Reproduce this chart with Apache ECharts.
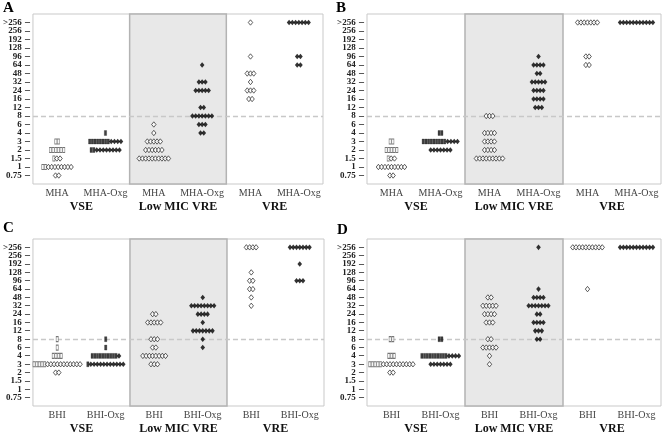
<!DOCTYPE html>
<html><head><meta charset="utf-8">
<script src="https://cdn.jsdelivr.net/npm/echarts@6/dist/echarts.min.js"></script>
<style>html,body{margin:0;padding:0;background:#fff}#c{width:664px;height:435px}</style>
</head><body><div id="c"></div>
<script>
// ---- tick labels / categories ----
const yTicks = ['0.75','1','1.5','2','3','4','6','8','12','16','24','32','48','64','96','128','192','256','>256'];
const groups = ['VSE','Low MIC VRE','VRE'];
const mediaMHA = ['MHA','MHA-Oxg'];
const mediaBHI = ['BHI','BHI-Oxg'];

// rows: [MIC, number of squares, number of diamonds]
// Panel A (MHA)
const A_VSE_MHA = [['3',2,0],['2',6,0],['1.5',1,2],['1',2,8],['0.75',0,2]];
const A_VSE_OXG = [['4',1,0],['3',8,4],['2',2,8]];
const A_LOW_MHA = [['6',0,1],['4',0,1],['3',0,5],['2',0,6],['1.5',0,10]];
const A_LOW_OXG = [['64',0,1],['32',0,3],['24',0,5],['12',0,2],['8',0,7],['6',0,3],['4',0,2]];
const A_VRE_MHA = [['>256',0,1],['96',0,1],['48',0,3],['32',0,1],['24',0,3],['16',0,2]];
const A_VRE_OXG = [['>256',0,7],['96',0,2],['64',0,2]];
// Panel B (MHA)
const B_VSE_MHA = [['3',2,0],['2',5,0],['1.5',1,2],['1',0,9],['0.75',0,2]];
const B_VSE_OXG = [['4',2,0],['3',9,4],['2',0,7]];
const B_LOW_MHA = [['8',0,3],['4',0,4],['3',0,4],['2',0,4],['1.5',0,9]];
const B_LOW_OXG = [['96',0,1],['64',0,4],['48',0,2],['32',0,5],['24',0,4],['16',0,4],['12',0,3]];
const B_VRE_MHA = [['>256',0,7],['96',0,2],['64',0,2]];
const B_VRE_OXG = [['>256',0,11]];
// Panel C (BHI)
const C_VSE_BHI = [['8',1,0],['6',1,0],['4',4,0],['3',5,11],['2',0,2]];
const C_VSE_OXG = [['8',1,0],['6',1,0],['4',10,1],['3',1,11]];
const C_LOW_BHI = [['24',0,2],['16',0,5],['8',0,3],['6',0,2],['4',0,8],['3',0,3]];
const C_LOW_OXG = [['48',0,1],['32',0,8],['24',0,4],['16',0,1],['12',0,7],['8',0,1],['6',0,1]];
const C_VRE_BHI = [['>256',0,4],['128',0,1],['96',0,2],['64',0,2],['48',0,1],['32',0,1]];
const C_VRE_OXG = [['>256',0,7],['192',0,1],['96',0,3]];
// Panel D (BHI)
const D_VSE_BHI = [['8',2,0],['4',3,0],['3',5,10],['2',0,2]];
const D_VSE_OXG = [['8',2,0],['4',10,4],['3',0,7]];
const D_LOW_BHI = [['48',0,2],['32',0,5],['24',0,4],['16',0,3],['8',0,2],['6',0,5],['4',0,1],['3',0,1]];
const D_LOW_OXG = [['>256',0,1],['64',0,1],['48',0,4],['32',0,7],['24',0,2],['16',0,4],['12',0,3],['8',0,2]];
const D_VRE_BHI = [['>256',0,10],['64',0,1]];
const D_VRE_OXG = [['>256',0,11]];

const panels = [
  {name:'A', media:mediaMHA, cols:[A_VSE_MHA,A_VSE_OXG,A_LOW_MHA,A_LOW_OXG,A_VRE_MHA,A_VRE_OXG], left:28, top:14, width:295},
  {name:'B', media:mediaMHA, cols:[B_VSE_MHA,B_VSE_OXG,B_LOW_MHA,B_LOW_OXG,B_VRE_MHA,B_VRE_OXG], left:367, top:14, width:296},
  {name:'C', media:mediaBHI, cols:[C_VSE_BHI,C_VSE_OXG,C_LOW_BHI,C_LOW_OXG,C_VRE_BHI,C_VRE_OXG], left:28, top:239, width:296},
  {name:'D', media:mediaBHI, cols:[D_VSE_BHI,D_VSE_OXG,D_LOW_BHI,D_LOW_OXG,D_VRE_BHI,D_VRE_OXG], left:367, top:239, width:296}
];
const letterPos = [[3,1],[336,1],[3,221],[337,223]];

const SERIF = 'Liberation Serif, DejaVu Serif, serif';
const GH = 170;
const SQ_W = 2.7, DI_W = 3.3;

const grid = [], xAxis = [], yAxis = [], series = [], graphic = [];

panels.forEach((p, pi) => {
  grid.push({left:p.left, top:p.top, width:p.width, height:GH, show:true, borderColor:'#c9c9c9', borderWidth:1, backgroundColor:'transparent'});
  const media = p.media;
  xAxis.push({gridIndex:pi, type:'value', min:0, max:6, interval:0.5, position:'bottom',
    axisLine:{show:false}, axisTick:{show:false}, splitLine:{show:false},
    axisLabel:{margin:4, fontFamily:SERIF, fontSize:10, color:'#444',
      formatter:v=>{const k=Math.round(v*2); return (k%2===1)? media[((k-1)/2)%2] : '';}}});
  xAxis.push({gridIndex:pi, type:'value', min:0, max:6, interval:1, position:'bottom',
    axisLine:{show:false}, axisTick:{show:false}, splitLine:{show:false},
    axisLabel:{margin:17, fontFamily:SERIF, fontSize:12, fontWeight:'bold', color:'#111',
      formatter:v=>{const k=Math.round(v); return (k%2===1)? groups[(k-1)/2] : '';}}});
  yAxis.push({gridIndex:pi, type:'value', min:-1, max:19, interval:1,
    axisLine:{show:false}, axisTick:{show:false}, splitLine:{show:false},
    axisLabel:{margin:3, showMinLabel:false, showMaxLabel:false,
      formatter:v=>{const i=Math.round(v); if(i<0||i>=yTicks.length) return ''; return '{t|'+yTicks[i]+'} {d|–}';},
      rich:{t:{fontFamily:SERIF, fontSize:9, fontWeight:'bold', color:'#222'},
            d:{fontFamily:SERIF, fontSize:10, fontWeight:'bold', color:'#222'}}}});

  const pxPerUnit = p.width / 6;
  const openD = [], fillD = [], openS = [], fillS = [];
  p.cols.forEach((rows, ci) => {
    const filled = ci % 2 === 1;
    rows.forEach(([mic, nSq, nD]) => {
      const yi = yTicks.indexOf(mic);
      const total = nSq*SQ_W + nD*DI_W;
      let x = -total/2;
      for (let k=0;k<nSq;k++){ const pos = x + SQ_W/2; x += SQ_W; (filled?fillS:openS).push([ci+0.5+pos/pxPerUnit, yi]); }
      for (let k=0;k<nD;k++){ const pos = x + DI_W/2; x += DI_W; (filled?fillD:openD).push([ci+0.5+pos/pxPerUnit, yi]); }
    });
  });
  const xi = pi*2;
  series.push({type:'scatter', xAxisIndex:xi, yAxisIndex:pi, data:[], z:1, zlevel:0, silent:true,
    markArea:{silent:true, itemStyle:{color:'#e8e8e8', borderColor:'#b3b3b3', borderWidth:1.5},
      data:[[{xAxis:2, yAxis:-1},{xAxis:4, yAxis:19}]]},
    markLine:{silent:true, symbol:'none', label:{show:false},
      lineStyle:{color:'#c8c8c8', width:1.3, type:[5,3]}, data:[{yAxis:7}]}});
  series.push({type:'scatter', xAxisIndex:xi, yAxisIndex:pi, data:openS, z:5, symbol:'rect', symbolSize:[2.2,5],
    itemStyle:{color:'#f4f4f4', borderColor:'#555', borderWidth:0.8}});
  series.push({type:'scatter', xAxisIndex:xi, yAxisIndex:pi, data:fillS, z:5, symbol:'rect', symbolSize:[2.3,5],
    itemStyle:{color:'#111', borderColor:'#111', borderWidth:0.3}});
  series.push({type:'scatter', xAxisIndex:xi, yAxisIndex:pi, data:openD, z:5, symbol:'diamond', symbolSize:[4.4,5.4],
    itemStyle:{color:'#fff', borderColor:'#222', borderWidth:0.9}});
  series.push({type:'scatter', xAxisIndex:xi, yAxisIndex:pi, data:fillD, z:5, symbol:'diamond', symbolSize:[4.6,5.6],
    itemStyle:{color:'#000'}});
  graphic.push({type:'text', left:letterPos[pi][0], top:letterPos[pi][1],
    style:{text:p.name, font:'bold 15px '+SERIF, fill:'#000'}});
});

const chart = echarts.init(document.getElementById('c'), null, {renderer:'canvas'});
chart.setOption({animation:false, backgroundColor:'#fff', grid, xAxis, yAxis, series, graphic});
</script></body></html>
